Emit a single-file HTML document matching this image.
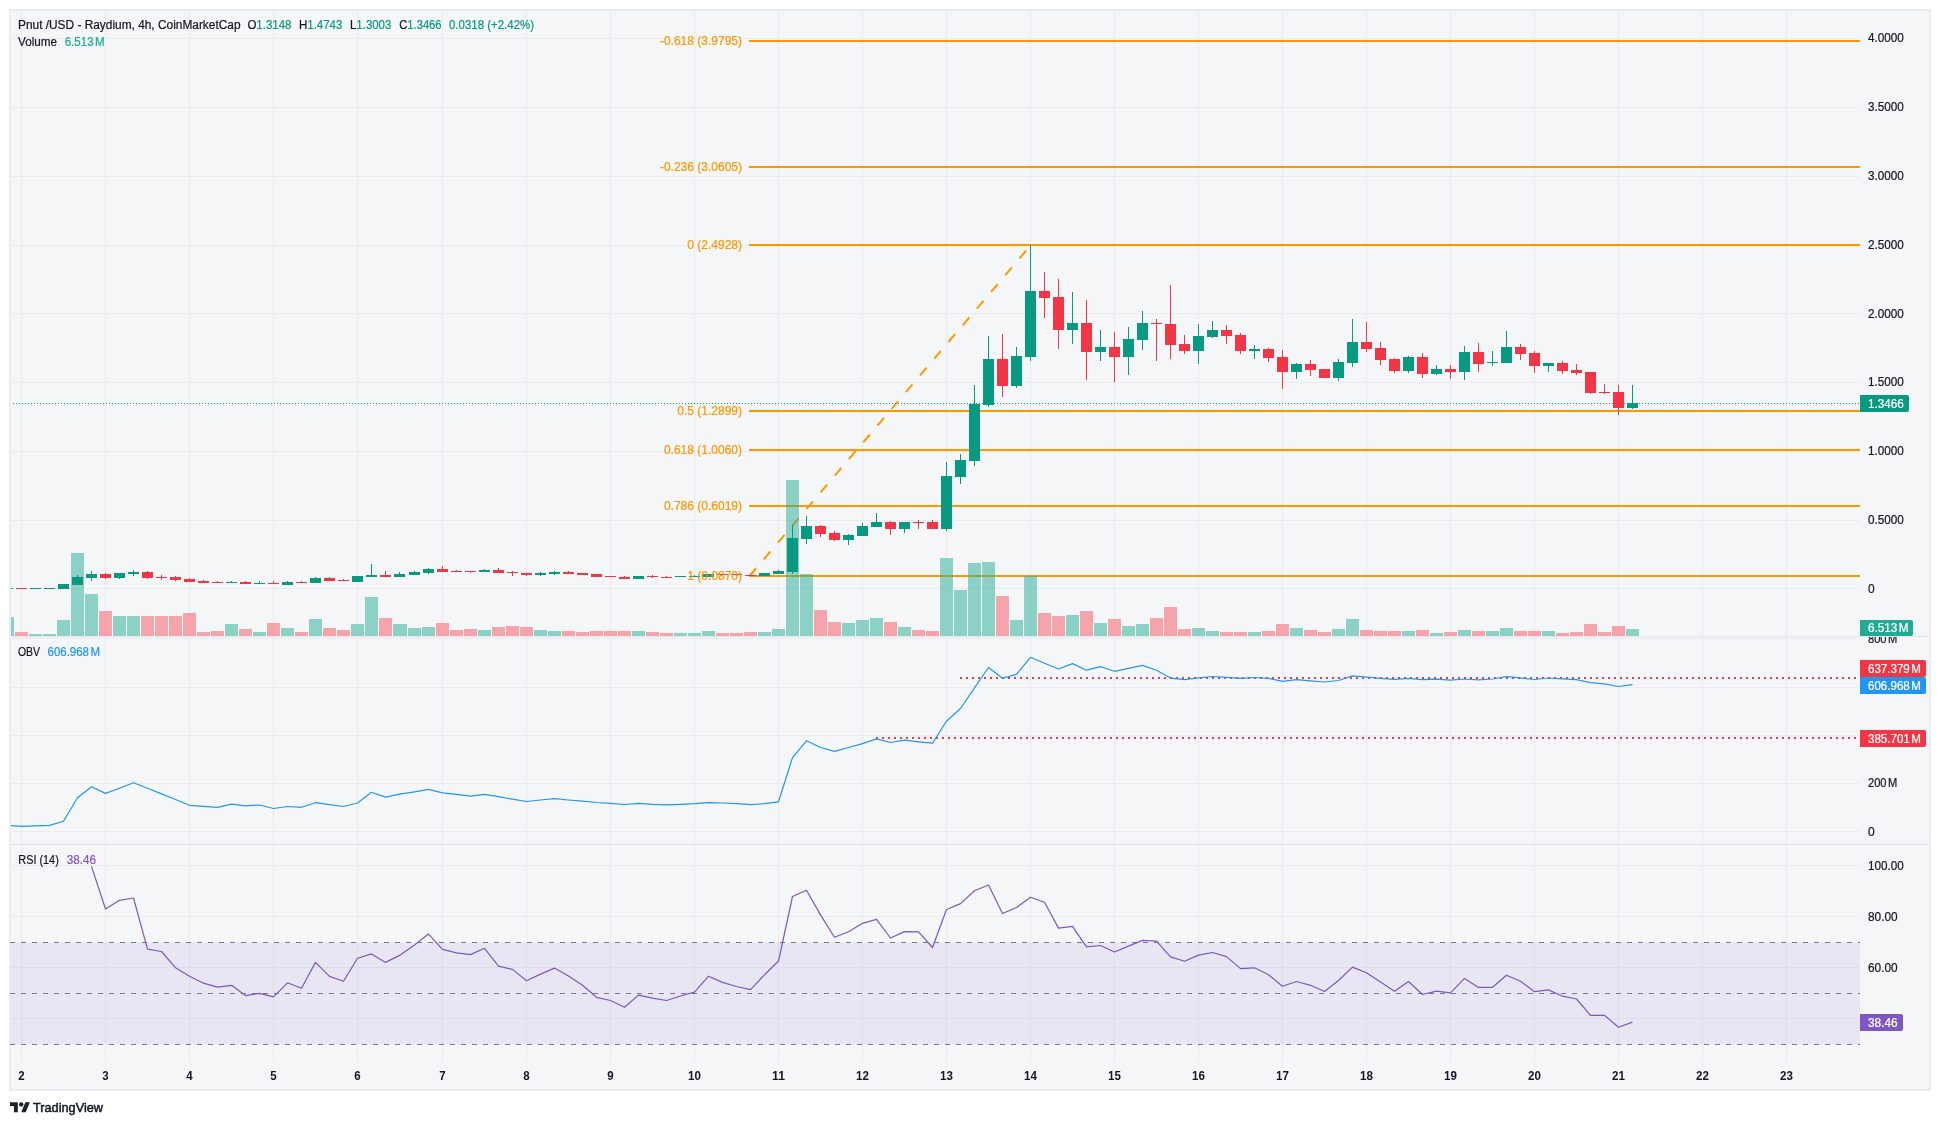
<!DOCTYPE html><html><head><meta charset="utf-8"><title>Chart</title><style>html,body{margin:0;padding:0;background:#fff;width:1940px;height:1125px;overflow:hidden}</style></head><body><svg width="1940" height="1125" viewBox="0 0 1940 1125" style="position:absolute;left:0;top:0;will-change:transform;font-family:'Liberation Sans',sans-serif;font-size:12px">
<style>text{stroke-width:.22px;paint-order:stroke}</style>
<defs><clipPath id="cp"><rect x="11" y="11" width="1849" height="1051"/></clipPath><clipPath id="cm"><rect x="11" y="11" width="1849" height="625"/></clipPath><clipPath id="cax"><rect x="1860" y="637" width="70" height="207"/></clipPath></defs>
<rect x="9" y="9" width="1922" height="1082" fill="#ebecf1"/>
<rect x="11" y="11" width="1918" height="1078" fill="#f5f6f8"/>
<g shape-rendering="crispEdges" fill="#eaebef">
<rect x="21" y="11" width="1" height="1051"/>
<rect x="105" y="11" width="1" height="1051"/>
<rect x="189" y="11" width="1" height="1051"/>
<rect x="273" y="11" width="1" height="1051"/>
<rect x="357" y="11" width="1" height="1051"/>
<rect x="442" y="11" width="1" height="1051"/>
<rect x="526" y="11" width="1" height="1051"/>
<rect x="610" y="11" width="1" height="1051"/>
<rect x="694" y="11" width="1" height="1051"/>
<rect x="778" y="11" width="1" height="1051"/>
<rect x="862" y="11" width="1" height="1051"/>
<rect x="946" y="11" width="1" height="1051"/>
<rect x="1030" y="11" width="1" height="1051"/>
<rect x="1114" y="11" width="1" height="1051"/>
<rect x="1198" y="11" width="1" height="1051"/>
<rect x="1282" y="11" width="1" height="1051"/>
<rect x="1366" y="11" width="1" height="1051"/>
<rect x="1450" y="11" width="1" height="1051"/>
<rect x="1534" y="11" width="1" height="1051"/>
<rect x="1618" y="11" width="1" height="1051"/>
<rect x="1702" y="11" width="1" height="1051"/>
<rect x="1786" y="11" width="1" height="1051"/>
<rect x="11" y="38" width="1849" height="1"/>
<rect x="11" y="107" width="1849" height="1"/>
<rect x="11" y="176" width="1849" height="1"/>
<rect x="11" y="245" width="1849" height="1"/>
<rect x="11" y="313" width="1849" height="1"/>
<rect x="11" y="382" width="1849" height="1"/>
<rect x="11" y="451" width="1849" height="1"/>
<rect x="11" y="520" width="1849" height="1"/>
<rect x="11" y="588" width="1849" height="1"/>
<rect x="11" y="638" width="1849" height="1"/>
<rect x="11" y="687" width="1849" height="1"/>
<rect x="11" y="735" width="1849" height="1"/>
<rect x="11" y="783" width="1849" height="1"/>
<rect x="11" y="831" width="1849" height="1"/>
<rect x="11" y="865" width="1849" height="1"/>
<rect x="11" y="916" width="1849" height="1"/>
<rect x="11" y="967" width="1849" height="1"/>
<rect x="11" y="1018" width="1849" height="1"/>
</g>
<g shape-rendering="crispEdges" fill="#e0e3eb"><rect x="11" y="636" width="1918" height="1"/><rect x="11" y="844" width="1918" height="1"/></g>
<rect x="11" y="942.5" width="1849" height="102" fill="rgba(112,90,200,0.1)"/>
<g stroke="#787b86" stroke-width="1" stroke-dasharray="5 6" shape-rendering="crispEdges">
<line x1="10" y1="942.5" x2="1860" y2="942.5"/>
<line x1="10" y1="993.5" x2="1860" y2="993.5"/>
<line x1="10" y1="1044.5" x2="1860" y2="1044.5"/>
</g>
<g clip-path="url(#cm)">
<g fill="#ff9800" shape-rendering="crispEdges">
<rect x="749" y="40" width="1111" height="2"/>
<rect x="749" y="166" width="1111" height="2"/>
<rect x="749" y="244" width="1111" height="2"/>
<rect x="749" y="410" width="1111" height="2"/>
<rect x="749" y="449" width="1111" height="2"/>
<rect x="749" y="505" width="1111" height="2"/>
<rect x="749" y="575" width="1111" height="2"/>
</g>
<line x1="749.5" y1="576" x2="1030.5" y2="245.5" stroke="#ff9800" stroke-width="2" stroke-dasharray="10.2 11.74"/>
<g shape-rendering="crispEdges">
<rect x="1" y="617" width="13" height="19" fill="rgba(34,171,148,0.5)"/>
<rect x="15" y="632" width="13" height="4" fill="rgba(247,82,95,0.5)"/>
<rect x="29" y="634" width="13" height="2" fill="rgba(34,171,148,0.5)"/>
<rect x="43" y="634" width="13" height="2" fill="rgba(34,171,148,0.5)"/>
<rect x="57" y="620" width="13" height="16" fill="rgba(34,171,148,0.5)"/>
<rect x="71" y="553" width="13" height="83" fill="rgba(34,171,148,0.5)"/>
<rect x="85" y="594" width="13" height="42" fill="rgba(34,171,148,0.5)"/>
<rect x="99" y="611" width="13" height="25" fill="rgba(247,82,95,0.5)"/>
<rect x="113" y="616" width="13" height="20" fill="rgba(34,171,148,0.5)"/>
<rect x="127" y="616" width="13" height="20" fill="rgba(34,171,148,0.5)"/>
<rect x="141" y="616" width="13" height="20" fill="rgba(247,82,95,0.5)"/>
<rect x="155" y="616" width="13" height="20" fill="rgba(247,82,95,0.5)"/>
<rect x="169" y="616" width="13" height="20" fill="rgba(247,82,95,0.5)"/>
<rect x="183" y="613" width="13" height="23" fill="rgba(247,82,95,0.5)"/>
<rect x="197" y="632" width="13" height="4" fill="rgba(247,82,95,0.5)"/>
<rect x="211" y="631" width="13" height="5" fill="rgba(247,82,95,0.5)"/>
<rect x="225" y="624" width="13" height="12" fill="rgba(34,171,148,0.5)"/>
<rect x="239" y="629" width="13" height="7" fill="rgba(247,82,95,0.5)"/>
<rect x="253" y="632" width="13" height="4" fill="rgba(34,171,148,0.5)"/>
<rect x="267" y="623" width="13" height="13" fill="rgba(247,82,95,0.5)"/>
<rect x="281" y="628" width="13" height="8" fill="rgba(34,171,148,0.5)"/>
<rect x="295" y="632" width="13" height="4" fill="rgba(247,82,95,0.5)"/>
<rect x="309" y="619" width="13" height="17" fill="rgba(34,171,148,0.5)"/>
<rect x="323" y="628" width="13" height="8" fill="rgba(247,82,95,0.5)"/>
<rect x="337" y="630" width="13" height="6" fill="rgba(247,82,95,0.5)"/>
<rect x="351" y="624" width="13" height="12" fill="rgba(34,171,148,0.5)"/>
<rect x="365" y="597" width="13" height="39" fill="rgba(34,171,148,0.5)"/>
<rect x="379" y="618" width="13" height="18" fill="rgba(247,82,95,0.5)"/>
<rect x="393" y="624" width="14" height="12" fill="rgba(34,171,148,0.5)"/>
<rect x="408" y="628" width="13" height="8" fill="rgba(34,171,148,0.5)"/>
<rect x="422" y="627" width="13" height="9" fill="rgba(34,171,148,0.5)"/>
<rect x="436" y="623" width="13" height="13" fill="rgba(247,82,95,0.5)"/>
<rect x="450" y="630" width="13" height="6" fill="rgba(247,82,95,0.5)"/>
<rect x="464" y="629" width="13" height="7" fill="rgba(247,82,95,0.5)"/>
<rect x="478" y="630" width="13" height="6" fill="rgba(34,171,148,0.5)"/>
<rect x="492" y="627" width="13" height="9" fill="rgba(247,82,95,0.5)"/>
<rect x="506" y="626" width="13" height="10" fill="rgba(247,82,95,0.5)"/>
<rect x="520" y="627" width="13" height="9" fill="rgba(247,82,95,0.5)"/>
<rect x="534" y="630" width="13" height="6" fill="rgba(34,171,148,0.5)"/>
<rect x="548" y="631" width="13" height="5" fill="rgba(34,171,148,0.5)"/>
<rect x="562" y="631" width="13" height="5" fill="rgba(247,82,95,0.5)"/>
<rect x="576" y="632" width="13" height="4" fill="rgba(247,82,95,0.5)"/>
<rect x="590" y="631" width="13" height="5" fill="rgba(247,82,95,0.5)"/>
<rect x="604" y="631" width="13" height="5" fill="rgba(247,82,95,0.5)"/>
<rect x="618" y="631" width="13" height="5" fill="rgba(247,82,95,0.5)"/>
<rect x="632" y="631" width="13" height="5" fill="rgba(34,171,148,0.5)"/>
<rect x="646" y="632" width="13" height="4" fill="rgba(247,82,95,0.5)"/>
<rect x="660" y="633" width="13" height="3" fill="rgba(247,82,95,0.5)"/>
<rect x="674" y="633" width="13" height="3" fill="rgba(34,171,148,0.5)"/>
<rect x="688" y="633" width="13" height="3" fill="rgba(34,171,148,0.5)"/>
<rect x="702" y="631" width="13" height="5" fill="rgba(34,171,148,0.5)"/>
<rect x="716" y="633" width="13" height="3" fill="rgba(247,82,95,0.5)"/>
<rect x="730" y="633" width="13" height="3" fill="rgba(247,82,95,0.5)"/>
<rect x="744" y="632" width="13" height="4" fill="rgba(247,82,95,0.5)"/>
<rect x="758" y="632" width="13" height="4" fill="rgba(34,171,148,0.5)"/>
<rect x="772" y="629" width="13" height="7" fill="rgba(34,171,148,0.5)"/>
<rect x="786" y="480" width="13" height="156" fill="rgba(34,171,148,0.5)"/>
<rect x="800" y="574" width="13" height="62" fill="rgba(34,171,148,0.5)"/>
<rect x="814" y="610" width="13" height="26" fill="rgba(247,82,95,0.5)"/>
<rect x="828" y="622" width="13" height="14" fill="rgba(247,82,95,0.5)"/>
<rect x="842" y="623" width="13" height="13" fill="rgba(34,171,148,0.5)"/>
<rect x="856" y="620" width="13" height="16" fill="rgba(34,171,148,0.5)"/>
<rect x="870" y="618" width="13" height="18" fill="rgba(34,171,148,0.5)"/>
<rect x="884" y="622" width="13" height="14" fill="rgba(247,82,95,0.5)"/>
<rect x="898" y="627" width="13" height="9" fill="rgba(34,171,148,0.5)"/>
<rect x="912" y="630" width="13" height="6" fill="rgba(247,82,95,0.5)"/>
<rect x="926" y="631" width="13" height="5" fill="rgba(247,82,95,0.5)"/>
<rect x="940" y="558" width="13" height="78" fill="rgba(34,171,148,0.5)"/>
<rect x="954" y="590" width="13" height="46" fill="rgba(34,171,148,0.5)"/>
<rect x="968" y="563" width="13" height="73" fill="rgba(34,171,148,0.5)"/>
<rect x="982" y="562" width="13" height="74" fill="rgba(34,171,148,0.5)"/>
<rect x="996" y="596" width="13" height="40" fill="rgba(247,82,95,0.5)"/>
<rect x="1010" y="620" width="13" height="16" fill="rgba(34,171,148,0.5)"/>
<rect x="1024" y="576" width="13" height="60" fill="rgba(34,171,148,0.5)"/>
<rect x="1038" y="613" width="13" height="23" fill="rgba(247,82,95,0.5)"/>
<rect x="1052" y="616" width="13" height="20" fill="rgba(247,82,95,0.5)"/>
<rect x="1066" y="615" width="13" height="21" fill="rgba(34,171,148,0.5)"/>
<rect x="1080" y="611" width="13" height="25" fill="rgba(247,82,95,0.5)"/>
<rect x="1094" y="623" width="13" height="13" fill="rgba(34,171,148,0.5)"/>
<rect x="1108" y="619" width="13" height="17" fill="rgba(247,82,95,0.5)"/>
<rect x="1122" y="626" width="13" height="10" fill="rgba(34,171,148,0.5)"/>
<rect x="1136" y="624" width="13" height="12" fill="rgba(34,171,148,0.5)"/>
<rect x="1150" y="618" width="13" height="18" fill="rgba(247,82,95,0.5)"/>
<rect x="1164" y="607" width="13" height="29" fill="rgba(247,82,95,0.5)"/>
<rect x="1178" y="629" width="13" height="7" fill="rgba(247,82,95,0.5)"/>
<rect x="1192" y="628" width="13" height="8" fill="rgba(34,171,148,0.5)"/>
<rect x="1206" y="631" width="13" height="5" fill="rgba(34,171,148,0.5)"/>
<rect x="1220" y="632" width="13" height="4" fill="rgba(247,82,95,0.5)"/>
<rect x="1234" y="632" width="13" height="4" fill="rgba(247,82,95,0.5)"/>
<rect x="1248" y="632" width="13" height="4" fill="rgba(34,171,148,0.5)"/>
<rect x="1262" y="631" width="13" height="5" fill="rgba(247,82,95,0.5)"/>
<rect x="1276" y="624" width="13" height="12" fill="rgba(247,82,95,0.5)"/>
<rect x="1290" y="628" width="13" height="8" fill="rgba(34,171,148,0.5)"/>
<rect x="1304" y="630" width="13" height="6" fill="rgba(247,82,95,0.5)"/>
<rect x="1318" y="632" width="13" height="4" fill="rgba(247,82,95,0.5)"/>
<rect x="1332" y="629" width="13" height="7" fill="rgba(34,171,148,0.5)"/>
<rect x="1346" y="619" width="13" height="17" fill="rgba(34,171,148,0.5)"/>
<rect x="1360" y="630" width="13" height="6" fill="rgba(247,82,95,0.5)"/>
<rect x="1374" y="631" width="13" height="5" fill="rgba(247,82,95,0.5)"/>
<rect x="1388" y="631" width="13" height="5" fill="rgba(247,82,95,0.5)"/>
<rect x="1402" y="631" width="13" height="5" fill="rgba(34,171,148,0.5)"/>
<rect x="1416" y="630" width="13" height="6" fill="rgba(247,82,95,0.5)"/>
<rect x="1430" y="633" width="13" height="3" fill="rgba(34,171,148,0.5)"/>
<rect x="1444" y="632" width="13" height="4" fill="rgba(247,82,95,0.5)"/>
<rect x="1458" y="630" width="13" height="6" fill="rgba(34,171,148,0.5)"/>
<rect x="1472" y="631" width="13" height="5" fill="rgba(247,82,95,0.5)"/>
<rect x="1486" y="631" width="13" height="5" fill="rgba(34,171,148,0.5)"/>
<rect x="1500" y="628" width="13" height="8" fill="rgba(34,171,148,0.5)"/>
<rect x="1514" y="631" width="13" height="5" fill="rgba(247,82,95,0.5)"/>
<rect x="1528" y="631" width="13" height="5" fill="rgba(247,82,95,0.5)"/>
<rect x="1542" y="631" width="13" height="5" fill="rgba(34,171,148,0.5)"/>
<rect x="1556" y="633" width="13" height="3" fill="rgba(247,82,95,0.5)"/>
<rect x="1570" y="632" width="13" height="4" fill="rgba(247,82,95,0.5)"/>
<rect x="1584" y="624" width="13" height="12" fill="rgba(247,82,95,0.5)"/>
<rect x="1598" y="632" width="13" height="4" fill="rgba(247,82,95,0.5)"/>
<rect x="1612" y="626" width="13" height="10" fill="rgba(247,82,95,0.5)"/>
<rect x="1626" y="629" width="13" height="7" fill="rgba(34,171,148,0.5)"/>
</g>
<line x1="10" y1="403.5" x2="1860" y2="403.5" stroke="#089981" stroke-width="1" stroke-dasharray="1 2" shape-rendering="crispEdges"/>
<g shape-rendering="crispEdges">
<rect x="2" y="588" width="11" height="1" fill="#089981"/>
<rect x="16" y="588" width="11" height="1" fill="#f23645"/>
<rect x="30" y="588" width="11" height="1" fill="#089981"/>
<rect x="44" y="588" width="11" height="1" fill="#089981"/>
<rect x="58" y="584" width="11" height="5" fill="#089981"/>
<rect x="77" y="575" width="1" height="10" fill="#089981"/>
<rect x="72" y="577" width="11" height="8" fill="#089981"/>
<rect x="91" y="571" width="1" height="10" fill="#089981"/>
<rect x="86" y="574" width="11" height="4" fill="#089981"/>
<rect x="105" y="573" width="1" height="6" fill="#f23645"/>
<rect x="100" y="574" width="11" height="4" fill="#f23645"/>
<rect x="119" y="573" width="1" height="6" fill="#089981"/>
<rect x="114" y="573" width="11" height="5" fill="#089981"/>
<rect x="133" y="570" width="1" height="6" fill="#089981"/>
<rect x="128" y="572" width="11" height="2" fill="#089981"/>
<rect x="147" y="571" width="1" height="8" fill="#f23645"/>
<rect x="142" y="572" width="11" height="6" fill="#f23645"/>
<rect x="161" y="575" width="1" height="5" fill="#f23645"/>
<rect x="156" y="577" width="11" height="1" fill="#f23645"/>
<rect x="175" y="576" width="1" height="5" fill="#f23645"/>
<rect x="170" y="577" width="11" height="3" fill="#f23645"/>
<rect x="189" y="578" width="1" height="4" fill="#f23645"/>
<rect x="184" y="579" width="11" height="3" fill="#f23645"/>
<rect x="203" y="580" width="1" height="3" fill="#f23645"/>
<rect x="198" y="581" width="11" height="2" fill="#f23645"/>
<rect x="217" y="581" width="1" height="2" fill="#f23645"/>
<rect x="212" y="582" width="11" height="1" fill="#f23645"/>
<rect x="231" y="581" width="1" height="2" fill="#089981"/>
<rect x="226" y="582" width="11" height="1" fill="#089981"/>
<rect x="245" y="581" width="1" height="3" fill="#f23645"/>
<rect x="240" y="582" width="11" height="2" fill="#f23645"/>
<rect x="259" y="581" width="1" height="3" fill="#089981"/>
<rect x="254" y="583" width="11" height="1" fill="#089981"/>
<rect x="273" y="581" width="1" height="3" fill="#f23645"/>
<rect x="268" y="583" width="11" height="1" fill="#f23645"/>
<rect x="287" y="581" width="1" height="4" fill="#089981"/>
<rect x="282" y="582" width="11" height="3" fill="#089981"/>
<rect x="301" y="581" width="1" height="2" fill="#f23645"/>
<rect x="296" y="582" width="11" height="1" fill="#f23645"/>
<rect x="315" y="577" width="1" height="6" fill="#089981"/>
<rect x="310" y="578" width="11" height="5" fill="#089981"/>
<rect x="329" y="577" width="1" height="4" fill="#f23645"/>
<rect x="324" y="578" width="11" height="3" fill="#f23645"/>
<rect x="343" y="579" width="1" height="2" fill="#f23645"/>
<rect x="338" y="580" width="11" height="1" fill="#f23645"/>
<rect x="352" y="576" width="11" height="6" fill="#089981"/>
<rect x="371" y="564" width="1" height="13" fill="#089981"/>
<rect x="366" y="575" width="11" height="2" fill="#089981"/>
<rect x="385" y="571" width="1" height="6" fill="#f23645"/>
<rect x="380" y="575" width="11" height="2" fill="#f23645"/>
<rect x="399" y="572" width="1" height="5" fill="#089981"/>
<rect x="394" y="574" width="11" height="3" fill="#089981"/>
<rect x="414" y="571" width="1" height="4" fill="#089981"/>
<rect x="409" y="572" width="11" height="3" fill="#089981"/>
<rect x="428" y="568" width="1" height="6" fill="#089981"/>
<rect x="423" y="569" width="11" height="4" fill="#089981"/>
<rect x="442" y="566" width="1" height="6" fill="#f23645"/>
<rect x="437" y="569" width="11" height="3" fill="#f23645"/>
<rect x="456" y="570" width="1" height="2" fill="#f23645"/>
<rect x="451" y="571" width="11" height="1" fill="#f23645"/>
<rect x="470" y="571" width="1" height="2" fill="#f23645"/>
<rect x="465" y="571" width="11" height="1" fill="#f23645"/>
<rect x="484" y="569" width="1" height="3" fill="#089981"/>
<rect x="479" y="570" width="11" height="2" fill="#089981"/>
<rect x="498" y="568" width="1" height="5" fill="#f23645"/>
<rect x="493" y="570" width="11" height="3" fill="#f23645"/>
<rect x="512" y="571" width="1" height="5" fill="#f23645"/>
<rect x="507" y="572" width="11" height="1" fill="#f23645"/>
<rect x="526" y="573" width="1" height="3" fill="#f23645"/>
<rect x="521" y="573" width="11" height="2" fill="#f23645"/>
<rect x="540" y="572" width="1" height="4" fill="#089981"/>
<rect x="535" y="573" width="11" height="2" fill="#089981"/>
<rect x="554" y="571" width="1" height="4" fill="#089981"/>
<rect x="549" y="572" width="11" height="2" fill="#089981"/>
<rect x="568" y="571" width="1" height="3" fill="#f23645"/>
<rect x="563" y="572" width="11" height="2" fill="#f23645"/>
<rect x="577" y="573" width="11" height="2" fill="#f23645"/>
<rect x="591" y="574" width="11" height="3" fill="#f23645"/>
<rect x="605" y="576" width="11" height="1" fill="#f23645"/>
<rect x="624" y="576" width="1" height="3" fill="#f23645"/>
<rect x="619" y="577" width="11" height="2" fill="#f23645"/>
<rect x="633" y="576" width="11" height="3" fill="#089981"/>
<rect x="652" y="575" width="1" height="3" fill="#f23645"/>
<rect x="647" y="576" width="11" height="1" fill="#f23645"/>
<rect x="666" y="576" width="1" height="2" fill="#f23645"/>
<rect x="661" y="577" width="11" height="1" fill="#f23645"/>
<rect x="675" y="576" width="11" height="1" fill="#089981"/>
<rect x="694" y="575" width="1" height="2" fill="#089981"/>
<rect x="689" y="576" width="11" height="1" fill="#089981"/>
<rect x="703" y="574" width="11" height="3" fill="#089981"/>
<rect x="717" y="574" width="11" height="1" fill="#f23645"/>
<rect x="736" y="574" width="1" height="2" fill="#f23645"/>
<rect x="731" y="574" width="11" height="1" fill="#f23645"/>
<rect x="745" y="575" width="11" height="1" fill="#f23645"/>
<rect x="759" y="573" width="11" height="3" fill="#089981"/>
<rect x="778" y="570" width="1" height="4" fill="#089981"/>
<rect x="773" y="571" width="11" height="3" fill="#089981"/>
<rect x="792" y="525" width="1" height="49" fill="#089981"/>
<rect x="787" y="538" width="11" height="34" fill="#089981"/>
<rect x="806" y="516" width="1" height="28" fill="#089981"/>
<rect x="801" y="526" width="11" height="13" fill="#089981"/>
<rect x="820" y="525" width="1" height="12" fill="#f23645"/>
<rect x="815" y="526" width="11" height="8" fill="#f23645"/>
<rect x="834" y="531" width="1" height="10" fill="#f23645"/>
<rect x="829" y="533" width="11" height="7" fill="#f23645"/>
<rect x="848" y="534" width="1" height="11" fill="#089981"/>
<rect x="843" y="535" width="11" height="5" fill="#089981"/>
<rect x="862" y="523" width="1" height="13" fill="#089981"/>
<rect x="857" y="526" width="11" height="10" fill="#089981"/>
<rect x="876" y="513" width="1" height="14" fill="#089981"/>
<rect x="871" y="522" width="11" height="5" fill="#089981"/>
<rect x="890" y="521" width="1" height="14" fill="#f23645"/>
<rect x="885" y="522" width="11" height="7" fill="#f23645"/>
<rect x="904" y="522" width="1" height="11" fill="#089981"/>
<rect x="899" y="522" width="11" height="7" fill="#089981"/>
<rect x="918" y="520" width="1" height="9" fill="#f23645"/>
<rect x="913" y="522" width="11" height="1" fill="#f23645"/>
<rect x="932" y="520" width="1" height="9" fill="#f23645"/>
<rect x="927" y="522" width="11" height="7" fill="#f23645"/>
<rect x="946" y="462" width="1" height="69" fill="#089981"/>
<rect x="941" y="476" width="11" height="53" fill="#089981"/>
<rect x="960" y="454" width="1" height="30" fill="#089981"/>
<rect x="955" y="460" width="11" height="17" fill="#089981"/>
<rect x="974" y="385" width="1" height="81" fill="#089981"/>
<rect x="969" y="404" width="11" height="57" fill="#089981"/>
<rect x="988" y="336" width="1" height="71" fill="#089981"/>
<rect x="983" y="359" width="11" height="46" fill="#089981"/>
<rect x="1002" y="334" width="1" height="63" fill="#f23645"/>
<rect x="997" y="359" width="11" height="27" fill="#f23645"/>
<rect x="1016" y="347" width="1" height="41" fill="#089981"/>
<rect x="1011" y="356" width="11" height="30" fill="#089981"/>
<rect x="1030" y="245" width="1" height="116" fill="#089981"/>
<rect x="1025" y="291" width="11" height="66" fill="#089981"/>
<rect x="1044" y="272" width="1" height="46" fill="#f23645"/>
<rect x="1039" y="291" width="11" height="7" fill="#f23645"/>
<rect x="1058" y="279" width="1" height="70" fill="#f23645"/>
<rect x="1053" y="297" width="11" height="33" fill="#f23645"/>
<rect x="1072" y="292" width="1" height="52" fill="#089981"/>
<rect x="1067" y="323" width="11" height="7" fill="#089981"/>
<rect x="1086" y="300" width="1" height="80" fill="#f23645"/>
<rect x="1081" y="323" width="11" height="29" fill="#f23645"/>
<rect x="1100" y="330" width="1" height="31" fill="#089981"/>
<rect x="1095" y="347" width="11" height="5" fill="#089981"/>
<rect x="1114" y="332" width="1" height="50" fill="#f23645"/>
<rect x="1109" y="347" width="11" height="10" fill="#f23645"/>
<rect x="1128" y="327" width="1" height="48" fill="#089981"/>
<rect x="1123" y="339" width="11" height="18" fill="#089981"/>
<rect x="1142" y="311" width="1" height="39" fill="#089981"/>
<rect x="1137" y="323" width="11" height="17" fill="#089981"/>
<rect x="1156" y="319" width="1" height="42" fill="#f23645"/>
<rect x="1151" y="323" width="11" height="1" fill="#f23645"/>
<rect x="1170" y="285" width="1" height="74" fill="#f23645"/>
<rect x="1165" y="324" width="11" height="21" fill="#f23645"/>
<rect x="1184" y="335" width="1" height="19" fill="#f23645"/>
<rect x="1179" y="344" width="11" height="7" fill="#f23645"/>
<rect x="1198" y="324" width="1" height="40" fill="#089981"/>
<rect x="1193" y="336" width="11" height="15" fill="#089981"/>
<rect x="1212" y="321" width="1" height="17" fill="#089981"/>
<rect x="1207" y="330" width="11" height="7" fill="#089981"/>
<rect x="1226" y="325" width="1" height="19" fill="#f23645"/>
<rect x="1221" y="330" width="11" height="6" fill="#f23645"/>
<rect x="1240" y="333" width="1" height="21" fill="#f23645"/>
<rect x="1235" y="335" width="11" height="16" fill="#f23645"/>
<rect x="1254" y="345" width="1" height="14" fill="#089981"/>
<rect x="1249" y="349" width="11" height="2" fill="#089981"/>
<rect x="1268" y="348" width="1" height="14" fill="#f23645"/>
<rect x="1263" y="349" width="11" height="9" fill="#f23645"/>
<rect x="1282" y="350" width="1" height="39" fill="#f23645"/>
<rect x="1277" y="357" width="11" height="15" fill="#f23645"/>
<rect x="1296" y="363" width="1" height="16" fill="#089981"/>
<rect x="1291" y="364" width="11" height="8" fill="#089981"/>
<rect x="1310" y="360" width="1" height="16" fill="#f23645"/>
<rect x="1305" y="364" width="11" height="6" fill="#f23645"/>
<rect x="1319" y="369" width="11" height="9" fill="#f23645"/>
<rect x="1338" y="359" width="1" height="22" fill="#089981"/>
<rect x="1333" y="362" width="11" height="16" fill="#089981"/>
<rect x="1352" y="319" width="1" height="48" fill="#089981"/>
<rect x="1347" y="342" width="11" height="21" fill="#089981"/>
<rect x="1366" y="322" width="1" height="30" fill="#f23645"/>
<rect x="1361" y="342" width="11" height="7" fill="#f23645"/>
<rect x="1380" y="342" width="1" height="23" fill="#f23645"/>
<rect x="1375" y="348" width="11" height="12" fill="#f23645"/>
<rect x="1394" y="358" width="1" height="15" fill="#f23645"/>
<rect x="1389" y="359" width="11" height="12" fill="#f23645"/>
<rect x="1408" y="356" width="1" height="17" fill="#089981"/>
<rect x="1403" y="357" width="11" height="14" fill="#089981"/>
<rect x="1422" y="353" width="1" height="25" fill="#f23645"/>
<rect x="1417" y="357" width="11" height="17" fill="#f23645"/>
<rect x="1436" y="365" width="1" height="10" fill="#089981"/>
<rect x="1431" y="369" width="11" height="5" fill="#089981"/>
<rect x="1450" y="365" width="1" height="14" fill="#f23645"/>
<rect x="1445" y="369" width="11" height="3" fill="#f23645"/>
<rect x="1464" y="346" width="1" height="34" fill="#089981"/>
<rect x="1459" y="352" width="11" height="20" fill="#089981"/>
<rect x="1478" y="343" width="1" height="29" fill="#f23645"/>
<rect x="1473" y="352" width="11" height="12" fill="#f23645"/>
<rect x="1492" y="351" width="1" height="15" fill="#089981"/>
<rect x="1487" y="362" width="11" height="1" fill="#089981"/>
<rect x="1506" y="331" width="1" height="32" fill="#089981"/>
<rect x="1501" y="347" width="11" height="16" fill="#089981"/>
<rect x="1520" y="344" width="1" height="16" fill="#f23645"/>
<rect x="1515" y="347" width="11" height="7" fill="#f23645"/>
<rect x="1534" y="351" width="1" height="22" fill="#f23645"/>
<rect x="1529" y="353" width="11" height="13" fill="#f23645"/>
<rect x="1548" y="363" width="1" height="9" fill="#089981"/>
<rect x="1543" y="363" width="11" height="3" fill="#089981"/>
<rect x="1562" y="361" width="1" height="13" fill="#f23645"/>
<rect x="1557" y="363" width="11" height="8" fill="#f23645"/>
<rect x="1576" y="364" width="1" height="11" fill="#f23645"/>
<rect x="1571" y="370" width="11" height="3" fill="#f23645"/>
<rect x="1590" y="372" width="1" height="22" fill="#f23645"/>
<rect x="1585" y="372" width="11" height="21" fill="#f23645"/>
<rect x="1604" y="384" width="1" height="10" fill="#f23645"/>
<rect x="1599" y="392" width="11" height="1" fill="#f23645"/>
<rect x="1618" y="385" width="1" height="30" fill="#f23645"/>
<rect x="1613" y="392" width="11" height="16" fill="#f23645"/>
<rect x="1632" y="385" width="1" height="24" fill="#089981"/>
<rect x="1627" y="403" width="11" height="5" fill="#089981"/>
</g>
</g>
<g fill="#ff9800" stroke="#ff9800" text-anchor="end">
<text x="742" y="45.3">-0.618 (3.9795)</text>
<text x="742" y="171.3">-0.236 (3.0605)</text>
<text x="742" y="249.3">0 (2.4928)</text>
<text x="742" y="415.3">0.5 (1.2899)</text>
<text x="742" y="454.3">0.618 (1.0060)</text>
<text x="742" y="510.3">0.786 (0.6019)</text>
<text x="742" y="580.3">1 (0.0870)</text>
</g>
<g clip-path="url(#cp)">
<line x1="960" y1="678" x2="1858" y2="678" stroke="#f23645" stroke-width="2" stroke-dasharray="2 4" shape-rendering="crispEdges"/>
<line x1="876" y1="738" x2="1858" y2="738" stroke="#f23645" stroke-width="2" stroke-dasharray="2 4" shape-rendering="crispEdges"/>
<polyline points="7.5,825.4 21.5,826.4 35.5,825.9 49.5,825.4 63.5,821.2 77.5,797.7 91.5,786.7 105.5,793.4 119.5,788.2 133.5,782.7 147.5,788.3 161.5,793.9 175.5,799.5 189.5,805.3 203.5,806.3 217.5,807.3 231.5,804.2 245.5,805.8 259.5,805 273.5,808.5 287.5,806.5 301.5,807.3 315.5,802.7 329.5,804.7 343.5,806.5 357.5,803 371.5,792.3 385.5,797.1 399.5,794.1 414.5,791.8 428.5,789.3 442.5,792.8 456.5,794.4 470.5,796.1 484.5,794.3 498.5,796.7 512.5,799.2 526.5,801.5 540.5,800 554.5,798.7 568.5,800 582.5,801.2 596.5,802.5 610.5,803.3 624.5,804.5 638.5,803.3 652.5,804.3 666.5,804.8 680.5,804.3 694.5,803.7 708.5,802.6 722.5,803 736.5,803.7 750.5,804.6 764.5,803.7 778.5,801.8 792.5,757.6 806.5,740.8 820.5,747.5 834.5,751.4 848.5,747.5 862.5,743.6 876.5,738.9 890.5,742.5 904.5,740.2 918.5,741.8 932.5,743.1 946.5,721.2 960.5,708.5 974.5,687.8 988.5,667.5 1002.5,678.3 1016.5,674.3 1030.5,657.3 1044.5,663.3 1058.5,669 1072.5,663.6 1086.5,670.2 1100.5,666.7 1114.5,671.3 1128.5,668.4 1142.5,665.4 1156.5,670.2 1170.5,678.1 1184.5,679.6 1198.5,677.8 1212.5,676.5 1226.5,677.4 1240.5,678.4 1254.5,677.5 1268.5,678.4 1282.5,681.3 1296.5,679.7 1310.5,680.8 1324.5,682 1338.5,680.5 1352.5,675.9 1366.5,677.2 1380.5,678.4 1394.5,679.4 1408.5,678.4 1422.5,679.7 1436.5,679.2 1450.5,680.2 1464.5,679 1478.5,679.9 1492.5,679 1506.5,676.7 1520.5,677.9 1534.5,679.5 1548.5,678 1562.5,678.9 1576.5,679.7 1590.5,682.7 1604.5,683.8 1618.5,686.5 1632.5,684.6" fill="none" stroke="#2196f3" stroke-width="1.2" stroke-linejoin="round"/>
<polyline points="91.5,866.4 105.5,909 119.5,900.3 133.5,898 147.5,949.2 161.5,951.5 175.5,967.7 189.5,976.2 203.5,983.2 217.5,987.2 231.5,985.3 245.5,995.6 259.5,993.3 273.5,996.8 287.5,982.8 301.5,988.2 315.5,962.4 329.5,976.4 343.5,981.3 357.5,958.2 371.5,953.9 385.5,962.4 399.5,955.4 414.5,944.9 428.5,934.1 442.5,949.3 456.5,952.8 470.5,954.6 484.5,948.3 498.5,966.1 512.5,969.4 526.5,980.7 540.5,974.1 554.5,968.1 568.5,975.9 582.5,985.3 596.5,997.3 610.5,1000.5 624.5,1007.3 638.5,995.1 652.5,998.2 666.5,1000.5 680.5,996 694.5,992.2 708.5,976.2 722.5,982.4 736.5,986.5 750.5,989.7 764.5,974.8 778.5,961 792.5,896.5 806.5,890.2 820.5,914.9 834.5,937.2 848.5,931.8 862.5,923.3 876.5,919.4 890.5,938 904.5,931.6 918.5,931.8 932.5,947.5 946.5,909.5 960.5,903.6 974.5,890.7 988.5,885 1002.5,913.5 1016.5,907.5 1030.5,897.2 1044.5,902.2 1058.5,928.1 1072.5,926.4 1086.5,946.8 1100.5,945.5 1114.5,952 1128.5,946.1 1142.5,940.4 1156.5,941.2 1170.5,956.9 1184.5,961.3 1198.5,955.1 1212.5,952.5 1226.5,956.6 1240.5,968.6 1254.5,967.8 1268.5,974.7 1282.5,986.3 1296.5,981.5 1310.5,985.3 1324.5,991.5 1338.5,980.5 1352.5,967.1 1366.5,972.7 1380.5,982 1394.5,991.2 1408.5,981.5 1422.5,994.5 1436.5,991.2 1450.5,992.9 1464.5,978.4 1478.5,987.4 1492.5,987.3 1506.5,975.2 1520.5,981.2 1534.5,991.7 1548.5,989.9 1562.5,996.2 1576.5,999 1590.5,1015.3 1604.5,1015.3 1618.5,1027.3 1632.5,1022.1" fill="none" stroke="#7e57c2" stroke-width="1.2" stroke-linejoin="round"/>
</g>
<g fill="#131722" stroke="#131722">
<text x="1868" y="42.3" textLength="35.8" lengthAdjust="spacingAndGlyphs">4.0000</text>
<text x="1868" y="111.3" textLength="35.8" lengthAdjust="spacingAndGlyphs">3.5000</text>
<text x="1868" y="180.3" textLength="35.8" lengthAdjust="spacingAndGlyphs">3.0000</text>
<text x="1868" y="249.3" textLength="35.8" lengthAdjust="spacingAndGlyphs">2.5000</text>
<text x="1868" y="318.3" textLength="35.8" lengthAdjust="spacingAndGlyphs">2.0000</text>
<text x="1868" y="386.3" textLength="35.8" lengthAdjust="spacingAndGlyphs">1.5000</text>
<text x="1868" y="455.3" textLength="35.8" lengthAdjust="spacingAndGlyphs">1.0000</text>
<text x="1868" y="524.3" textLength="35.8" lengthAdjust="spacingAndGlyphs">0.5000</text>
<text x="1868" y="593.3">0</text>
<g clip-path="url(#cax)"><text x="1868" y="642.8" textLength="29.2" lengthAdjust="spacingAndGlyphs">800<tspan dx="1.5">M</tspan></text></g>
<text x="1868" y="787.3" textLength="29.2" lengthAdjust="spacingAndGlyphs">200<tspan dx="1.5">M</tspan></text>
<text x="1868" y="835.8">0</text>
<text x="1868" y="869.8" textLength="35.7" lengthAdjust="spacingAndGlyphs">100.00</text>
<text x="1868" y="920.5999999999999" textLength="29.6" lengthAdjust="spacingAndGlyphs">80.00</text>
<text x="1868" y="971.8" textLength="29.6" lengthAdjust="spacingAndGlyphs">60.00</text>
</g>
<path d="M1860 395H1907a2 2 0 0 1 2 2V410a2 2 0 0 1 -2 2H1860z" fill="#089981"/>
<text x="1868" y="407.8" fill="#fff" stroke="#fff" textLength="35.8" lengthAdjust="spacingAndGlyphs">1.3466</text>
<path d="M1860 620H1911a2 2 0 0 1 2 2V634a2 2 0 0 1 -2 2H1860z" fill="#22ab94"/>
<text x="1868" y="632.3" fill="#fff" stroke="#fff" textLength="40.5" lengthAdjust="spacingAndGlyphs">6.513<tspan dx="1.5">M</tspan></text>
<path d="M1860 660H1924a2 2 0 0 1 2 2V675a2 2 0 0 1 -2 2H1860z" fill="#f23645"/>
<text x="1868" y="672.8" fill="#fff" stroke="#fff" textLength="52.9" lengthAdjust="spacingAndGlyphs">637.379<tspan dx="1.5">M</tspan></text>
<path d="M1860 677H1924a2 2 0 0 1 2 2V692a2 2 0 0 1 -2 2H1860z" fill="#2196f3"/>
<text x="1868" y="689.8" fill="#fff" stroke="#fff" textLength="52.9" lengthAdjust="spacingAndGlyphs">606.968<tspan dx="1.5">M</tspan></text>
<path d="M1860 730H1924a2 2 0 0 1 2 2V745a2 2 0 0 1 -2 2H1860z" fill="#f23645"/>
<text x="1868" y="742.8" fill="#fff" stroke="#fff" textLength="52.9" lengthAdjust="spacingAndGlyphs">385.701<tspan dx="1.5">M</tspan></text>
<path d="M1860 1014H1901a2 2 0 0 1 2 2V1029a2 2 0 0 1 -2 2H1860z" fill="#7e57c2"/>
<text x="1868" y="1026.8" fill="#fff" stroke="#fff" textLength="29.6" lengthAdjust="spacingAndGlyphs">38.46</text>
<g fill="#131722" font-weight="bold" text-anchor="middle">
<text x="21.5" y="1080.3" textLength="6.4" lengthAdjust="spacingAndGlyphs">2</text>
<text x="105.5" y="1080.3" textLength="6.4" lengthAdjust="spacingAndGlyphs">3</text>
<text x="189.5" y="1080.3" textLength="6.4" lengthAdjust="spacingAndGlyphs">4</text>
<text x="273.5" y="1080.3" textLength="6.4" lengthAdjust="spacingAndGlyphs">5</text>
<text x="357.5" y="1080.3" textLength="6.4" lengthAdjust="spacingAndGlyphs">6</text>
<text x="442.5" y="1080.3" textLength="6.4" lengthAdjust="spacingAndGlyphs">7</text>
<text x="526.5" y="1080.3" textLength="6.4" lengthAdjust="spacingAndGlyphs">8</text>
<text x="610.5" y="1080.3" textLength="6.4" lengthAdjust="spacingAndGlyphs">9</text>
<text x="694.5" y="1080.3" textLength="12.9" lengthAdjust="spacingAndGlyphs">10</text>
<text x="778.5" y="1080.3" textLength="12.9" lengthAdjust="spacingAndGlyphs">11</text>
<text x="862.5" y="1080.3" textLength="12.9" lengthAdjust="spacingAndGlyphs">12</text>
<text x="946.5" y="1080.3" textLength="12.9" lengthAdjust="spacingAndGlyphs">13</text>
<text x="1030.5" y="1080.3" textLength="12.9" lengthAdjust="spacingAndGlyphs">14</text>
<text x="1114.5" y="1080.3" textLength="12.9" lengthAdjust="spacingAndGlyphs">15</text>
<text x="1198.5" y="1080.3" textLength="12.9" lengthAdjust="spacingAndGlyphs">16</text>
<text x="1282.5" y="1080.3" textLength="12.9" lengthAdjust="spacingAndGlyphs">17</text>
<text x="1366.5" y="1080.3" textLength="12.9" lengthAdjust="spacingAndGlyphs">18</text>
<text x="1450.5" y="1080.3" textLength="12.9" lengthAdjust="spacingAndGlyphs">19</text>
<text x="1534.5" y="1080.3" textLength="12.9" lengthAdjust="spacingAndGlyphs">20</text>
<text x="1618.5" y="1080.3" textLength="12.9" lengthAdjust="spacingAndGlyphs">21</text>
<text x="1702.5" y="1080.3" textLength="12.9" lengthAdjust="spacingAndGlyphs">22</text>
<text x="1786.5" y="1080.3" textLength="12.9" lengthAdjust="spacingAndGlyphs">23</text>
</g>
<text x="18" y="29" fill="#131722" stroke="#131722"><tspan textLength="222.5" lengthAdjust="spacingAndGlyphs">Pnut /USD - Raydium, 4h, CoinMarketCap</tspan></text>
<text x="247.4" y="29" textLength="44.099999999999994" lengthAdjust="spacingAndGlyphs"><tspan fill="#131722" stroke="#131722">O</tspan><tspan fill="#089981" stroke="#089981">1.3148</tspan></text>
<text x="299" y="29" textLength="43.30000000000001" lengthAdjust="spacingAndGlyphs"><tspan fill="#131722" stroke="#131722">H</tspan><tspan fill="#089981" stroke="#089981">1.4743</tspan></text>
<text x="350" y="29" textLength="41.30000000000001" lengthAdjust="spacingAndGlyphs"><tspan fill="#131722" stroke="#131722">L</tspan><tspan fill="#089981" stroke="#089981">1.3003</tspan></text>
<text x="399.2" y="29" textLength="42.400000000000034" lengthAdjust="spacingAndGlyphs"><tspan fill="#131722" stroke="#131722">C</tspan><tspan fill="#089981" stroke="#089981">1.3466</tspan></text>
<text x="449" y="29" fill="#089981" stroke="#089981" textLength="85" lengthAdjust="spacingAndGlyphs">0.0318 (+2.42%)</text>
<text x="18" y="46" fill="#131722" stroke="#131722" textLength="39" lengthAdjust="spacingAndGlyphs">Volume</text>
<text x="64.7" y="46" fill="#22ab94" stroke="#22ab94" textLength="40" lengthAdjust="spacingAndGlyphs">6.513<tspan dx="1.5">M</tspan></text>
<text x="18" y="656" fill="#131722" stroke="#131722" textLength="22" lengthAdjust="spacingAndGlyphs">OBV</text>
<text x="47.5" y="656" fill="#2196f3" stroke="#2196f3" textLength="52.5" lengthAdjust="spacingAndGlyphs">606.968<tspan dx="1.5">M</tspan></text>
<text x="18.3" y="864" fill="#131722" stroke="#131722" textLength="40.5" lengthAdjust="spacingAndGlyphs">RSI (14)</text>
<text x="66.7" y="864" fill="#7e57c2" stroke="#7e57c2" textLength="29.3" lengthAdjust="spacingAndGlyphs">38.46</text>
<g transform="translate(10,1099.9) scale(0.56)" fill="#1e222d"><path d="M14 22H7V11H0V4h14v18zM28 22h-8l7.5-18h8L28 22z"/><circle cx="20" cy="8" r="4"/></g>
<text x="33" y="1112" fill="#131722" stroke="#131722" font-size="13px" style="stroke-width:.5px" textLength="70" lengthAdjust="spacingAndGlyphs">TradingView</text>
</svg></body></html>
